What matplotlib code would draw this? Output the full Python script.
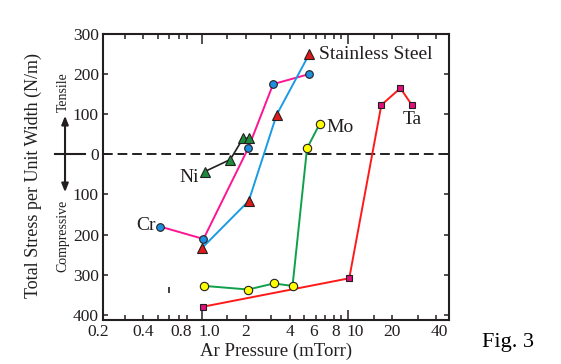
import matplotlib
matplotlib.use("Agg")
import matplotlib.pyplot as plt
from matplotlib.patches import FancyArrowPatch
from matplotlib.lines import Line2D
import matplotlib.transforms as mtransforms

plt.rcParams['font.family'] = ['Liberation Serif', 'DejaVu Serif']

# Data (pressure in mTorr, stress in N/m)
cr_p = [0.52, 1.03, 2.08, 3.08, 5.42]
cr_s = [-180, -211, 15, 175, 200]
ss_p = [1.01, 2.10, 3.25, 5.42]
ss_s = [-233, -116, 98, 249]
ni_p = [1.05, 1.57, 1.92, 2.11]
ni_s = [-43, -13, 40, 40]
mo_p = [1.04, 2.08, 3.11, 4.18, 5.25, 6.41]
mo_s = [-328, -337, -322, -328, 15, 76]
ta_p = [1.02, 10.2, 16.9, 22.8, 27.3]
ta_s = [-380, -309, 123, 165, 123]

# stray mark in the scanned figure
stray_p = [0.598]
stray_s = [-338]

xtick_vals = [0.212, 0.4, 0.8, 1.0, 2, 4, 6, 8, 10, 20, 40]
xtick_labels = ['0.2', '0.4', '0.8', '1.0', '2', '4', '6', '8', '10', '20', '40']
xtick_shift = [-5, 0, -6, 8, 0, 0, -2, 2, 7, 0, 3]   # label nudges, px
xminor_vals = [0.3, 0.5, 0.6, 0.7, 1.5, 3, 5, 7, 9, 15, 30]
ytick_vals = [-400, -300, -200, -100, 0, 100, 200, 300]
ytick_labels = ['400', '300', '200', '100', '0', '100', '200', '300']

TXT = '#231f20'

fig = plt.figure(figsize=(5.61, 3.64), dpi=100)
ax = fig.add_axes([0.1836, 0.1209, 0.6168, 0.7857])

ax.axhline(0, color='#231f20', lw=1.4, ls=(0, (5, 2.5)), zorder=1)

ax.plot(cr_p, cr_s, color='#ff1493', lw=1.4, zorder=2)
ax.plot(ss_p, ss_s, color='#1a9be6', lw=1.4, zorder=2)
ax.plot(ni_p, ni_s, color='#231f20', lw=1.2, zorder=2)
ax.plot(mo_p, mo_s, color='#0fa04a', lw=1.4, zorder=2)
ax.plot(ta_p, ta_s, color='#ff1a1a', lw=1.4, zorder=2)

ax.plot(cr_p, cr_s, ls='none', marker='o', ms=5.5, mfc='#1e8fe0', mec='#231f20', mew=0.8, zorder=4)
ax.plot(ss_p, ss_s, ls='none', marker='^', ms=7, mfc='#e01a1a', mec='#231f20', mew=0.8, zorder=3)
ax.plot(ni_p, ni_s, ls='none', marker='^', ms=7, mfc='#1f8a3c', mec='#231f20', mew=0.8, zorder=3)
ax.plot(mo_p, mo_s, ls='none', marker='o', ms=6, mfc='#ffff00', mec='#231f20', mew=0.8, zorder=3)
ax.plot(ta_p, ta_s, ls='none', marker='s', ms=5, mfc='#e0107a', mec='#231f20', mew=0.8, zorder=3)
ax.plot(stray_p, stray_s, ls='none', marker='|', ms=4, mec='#231f20', mew=1.2)

ax.set_xscale('log')
ax.set_xlim(0.212, 49)
ax.set_ylim(-413, 300)

ax.set_xticks(xtick_vals)
ax.set_xticklabels(xtick_labels)
ax.set_xticks(xminor_vals, minor=True)
ax.set_xticklabels([], minor=True)
ax.set_yticks(ytick_vals)
ax.set_yticklabels(ytick_labels)

ax.tick_params(axis='both', which='both', direction='in', top=True, right=True,
               width=1.1, colors=TXT, labelsize=12.5, labelcolor=TXT)
ax.tick_params(axis='x', which='both', length=3.6, pad=3)
ax.tick_params(axis='y', length=3.6, pad=3)

for t, v in zip(ax.xaxis.get_major_ticks(), xtick_vals):
    if v in (1.0, 10):
        t.tick1line.set_markersize(7.2)
        t.tick2line.set_markersize(7.2)
    if v == 0.212:
        t.tick1line.set_visible(False)
        t.tick2line.set_visible(False)

for lab, dx in zip(ax.get_xticklabels(), xtick_shift):
    off = mtransforms.ScaledTranslation(dx / 100, 0, fig.dpi_scale_trans)
    lab.set_transform(lab.get_transform() + off)

for sp in ax.spines.values():
    sp.set_linewidth(1.5)
    sp.set_color(TXT)

# series labels
ax.text(6.31, 250, 'Stainless Steel', fontsize=14, color=TXT, va='center', ha='left')
ax.text(7.16, 66, 'Mo', fontsize=14, color=TXT, va='center', ha='left')
ax.text(27.6, 88, 'Ta', fontsize=14, color=TXT, va='center', ha='center')
ax.text(0.819, -57, 'Ni', fontsize=14, color=TXT, va='center', ha='center')
ax.text(0.417, -178, 'Cr', fontsize=14, color=TXT, va='center', ha='center')

ax.set_xlabel('Ar Pressure (mTorr)', fontsize=13.5, color=TXT, labelpad=2)
fig.text(0.0588, 0.519, 'Total Stress per Unit Width (N/m)', rotation=90,
         fontsize=13, color=TXT, ha='center', va='center')
fig.text(0.1123, 0.747, 'Tensile', rotation=90, fontsize=10,
         color=TXT, ha='center', va='center')
fig.text(0.1123, 0.352, 'Compressive', rotation=90, fontsize=10,
         color=TXT, ha='center', va='center')

# tensile / compressive arrow next to the y axis
arr = FancyArrowPatch((0.1159, 1 - 195 / 364), (0.1159, 1 - 113 / 364),
                      transform=fig.transFigure, arrowstyle='<|-|>,head_length=5,head_width=2',
                      color=TXT, lw=1.5, mutation_scale=1)
fig.add_artist(arr)
fig.add_artist(Line2D([55 / 561, 85 / 561], [1 - 154.3 / 364, 1 - 154.3 / 364],
                      transform=fig.transFigure, color=TXT, lw=1.5))

fig.text(0.905, 0.058, 'Fig. 3', fontsize=16, color='black', ha='center', va='center')

fig.savefig('out.png', dpi=100)
